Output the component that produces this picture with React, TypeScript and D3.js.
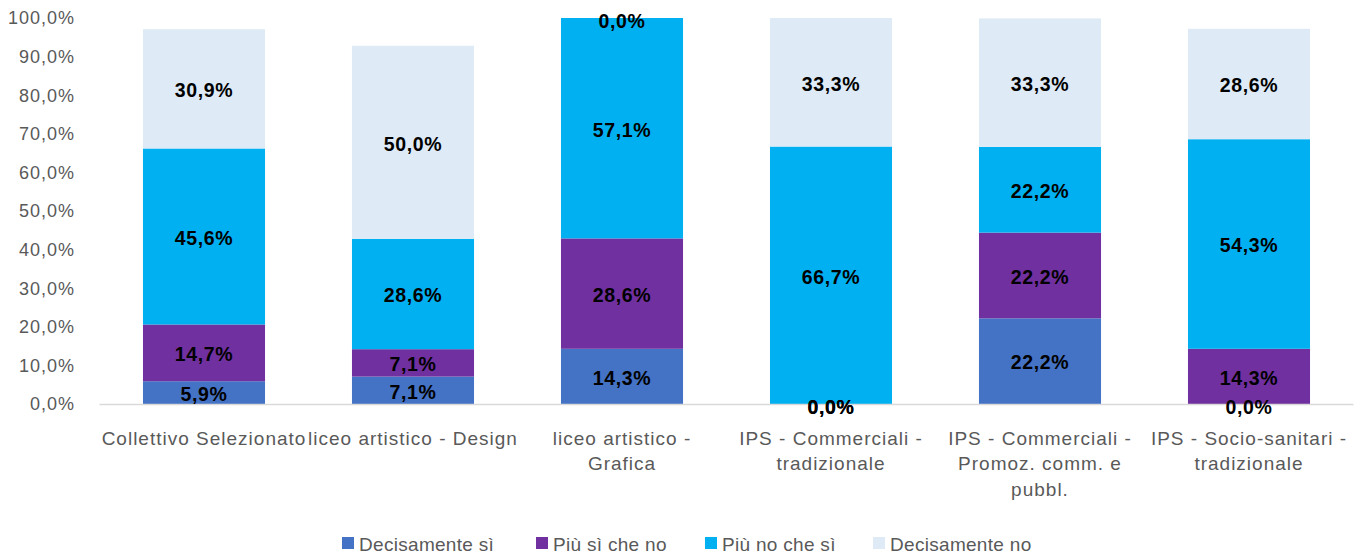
import React from "react";
import * as d3 from "d3";

const categories = [
  "Collettivo Selezionato",
  "liceo artistico - Design",
  "liceo artistico -\nGrafica",
  "IPS - Commerciali -\ntradizionale",
  "IPS - Commerciali -\nPromoz. comm.  e\npubbl.",
  "IPS - Socio-sanitari -\ntradizionale",
];
const seriesNames = ["Decisamente sì", "Più sì che no", "Più no che sì", "Decisamente no"];
const decisamenteSi = [5.9, 7.1, 14.3, 0.0, 22.2, 0.0];
const piuSiCheNo = [14.7, 7.1, 28.6, 0.0, 22.2, 14.3];
const piuNoCheSi = [45.6, 28.6, 57.1, 66.7, 22.2, 54.3];
const decisamenteNo = [30.9, 50.0, 0.0, 33.3, 33.3, 28.6];
const yTicks = [0, 10, 20, 30, 40, 50, 60, 70, 80, 90, 100];
const colors = ["#4472C4", "#7030A0", "#00B0F0", "#DEEBF7"];

const W = 1361;
const H = 555;
const FONT = "'Liberation Sans', Arial, sans-serif";

export default function App() {
  const series = [decisamenteSi, piuSiCheNo, piuNoCheSi, decisamenteNo];
  const x = d3
    .scaleBand<number>()
    .domain(d3.range(categories.length))
    .range([99.5, 1353.5])
    .paddingInner(0.416)
    .paddingOuter(0.208);
  const y = d3.scaleLinear().domain([0, 100]).range([404, 18]);
  const fmt = (v: number) => v.toFixed(1).replace(".", ",") + "%";

  const stacks = categories.map((_, i) => {
    let acc = 0;
    return series.map((s) => {
      const y0 = acc;
      acc += s[i];
      return { y0, y1: acc, v: s[i] };
    });
  });

  const legendX = [342, 536, 705, 873];

  return (
    <svg width={W} height={H} style={{ position: "absolute", left: 0, top: 0 }} fontFamily={FONT}>
      <rect width={W} height={H} fill="#fff" />
      {yTicks.map((t) => (
        <text key={t} x={75} y={y(t)} dy="0.35em" textAnchor="end" fontSize={18} letterSpacing={1} fill="#595959">
          {fmt(t)}
        </text>
      ))}
      {stacks.map((st, i) =>
        st.map((seg, k) => (
          <rect
            key={`${i}-${k}`}
            x={x(i)}
            width={x.bandwidth()}
            y={y(seg.y1)}
            height={y(seg.y0) - y(seg.y1)}
            fill={colors[k]}
          />
        ))
      )}
      <line x1={99.5} x2={1353.5} y1={404.5} y2={404.5} stroke="#D9D9D9" strokeWidth={1.5} />
      {stacks.map((st, i) =>
        st.map((seg, k) => (
          <text
            key={`l${i}-${k}`}
            x={(x(i) as number) + x.bandwidth() / 2}
            y={seg.v === 0 ? y(seg.y0) + 3 : y((seg.y0 + seg.y1) / 2) + 1.5}
            dy="0.35em"
            textAnchor="middle"
            fontSize={19.5}
            letterSpacing={0.6}
            fontWeight="bold"
            fill="#000"
          >
            {fmt(seg.v)}
          </text>
        ))
      )}
      {categories.map((c, i) =>
        c.split("\n").map((line, j) => (
          <text
            key={`c${i}-${j}`}
            x={(x(i) as number) + x.bandwidth() / 2}
            y={438 + j * 25.5}
            dy="0.35em"
            textAnchor="middle"
            fontSize={19}
            letterSpacing={1}
            fill="#595959"
          >
            {line}
          </text>
        ))
      )}
      {seriesNames.map((n, k) => (
        <g key={n}>
          <rect x={legendX[k]} y={537} width={12} height={12} fill={colors[k]} />
          <text x={legendX[k] + 17} y={544} dy="0.35em" fontSize={19} letterSpacing={0.3} fill="#595959">
            {n}
          </text>
        </g>
      ))}
    </svg>
  );
}
